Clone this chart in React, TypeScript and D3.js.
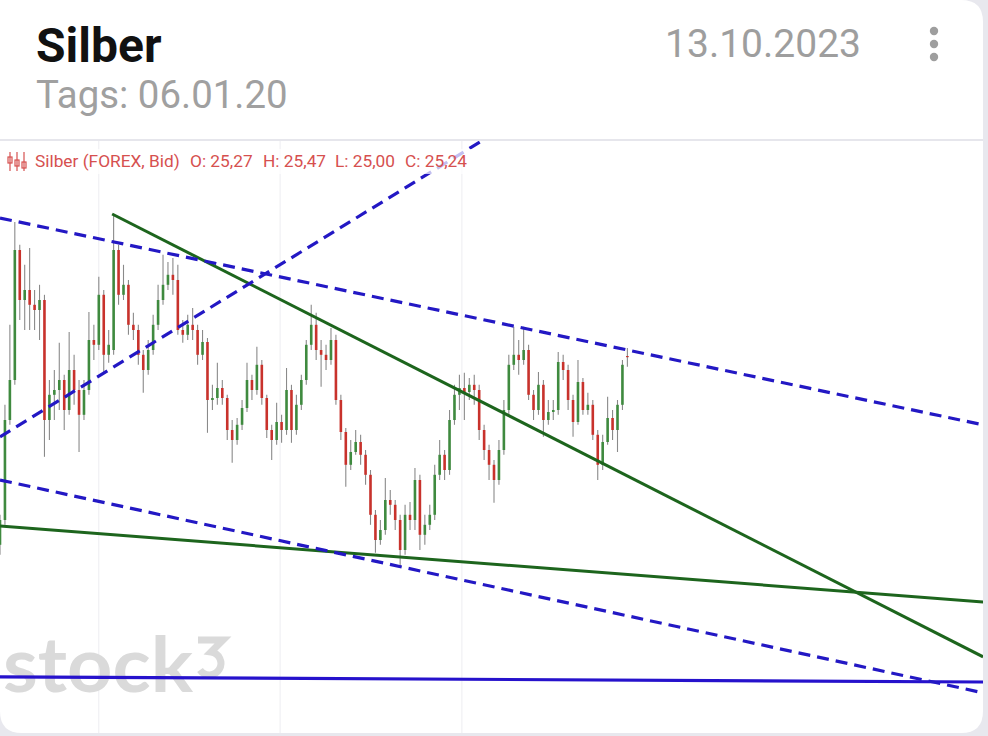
import React from "react";
import * as d3 from "d3";

// ---- data ----
const OPEN = [
  20.55, 21.17, 23.67, 24.67, 27.92, 26.67, 26.92, 26.55, 26.42, 26.67,
  23.67, 24.30, 24.42, 24.67, 23.92, 24.92, 24.42, 23.80, 24.42, 25.67,
  25.55, 26.80, 25.30, 25.42, 27.92, 26.80, 27.05, 26.05, 25.92, 25.30,
  24.92, 25.42, 26.05, 26.67, 27.05, 27.30, 27.17, 25.92, 25.80, 26.05,
  25.92, 25.30, 25.62, 24.17, 24.22, 24.47, 24.22, 23.42, 23.17, 23.55,
  23.97, 24.67, 24.42, 25.05, 24.22, 23.42, 23.17, 23.62, 23.42, 24.42,
  23.42, 24.05, 24.67, 25.55, 26.05, 25.42, 25.30, 25.17, 25.67, 24.17,
  23.37, 22.55, 22.87, 23.12, 22.80, 22.30, 21.30, 20.67, 20.92, 21.67,
  21.55, 21.17, 20.42, 21.30, 21.17, 22.17, 20.80, 21.05, 21.30, 22.30,
  22.80, 22.42, 23.67, 24.30, 24.47, 24.37, 24.55, 24.42, 23.42, 22.92,
  22.55, 22.17, 22.92, 23.92, 25.05, 25.30, 25.17, 25.42, 24.30, 23.92,
  24.55, 23.67, 23.87, 23.92, 25.12, 24.92, 24.17, 23.62, 24.62, 23.92,
  24.05, 23.30, 22.55, 23.12, 23.72, 23.42, 24.05, 25.27,
];
const HIGH = [
  21.30, 24.05, 26.05, 28.62, 28.05, 27.55, 27.97, 26.92, 27.05, 26.80,
  24.67, 24.92, 25.60, 24.80, 25.87, 25.30, 24.67, 24.67, 26.37, 26.05,
  27.25, 26.92, 25.92, 28.82, 28.05, 27.55, 27.17, 26.35, 26.05, 25.42,
  25.67, 26.30, 27.05, 27.80, 27.62, 27.72, 27.55, 26.17, 26.30, 26.47,
  26.05, 25.92, 25.72, 24.55, 25.10, 24.67, 24.30, 23.67, 23.72, 24.17,
  25.10, 24.80, 25.50, 25.17, 24.30, 23.55, 24.10, 23.80, 24.97, 24.55,
  24.30, 24.80, 25.67, 26.55, 26.35, 25.67, 25.55, 25.97, 25.80, 24.30,
  23.47, 23.17, 23.42, 23.30, 22.92, 22.42, 21.42, 21.17, 22.22, 21.92,
  21.67, 21.30, 21.55, 21.62, 22.47, 22.30, 21.30, 21.55, 22.55, 23.17,
  22.92, 23.92, 24.55, 24.80, 24.85, 24.72, 24.80, 24.55, 23.55, 23.05,
  22.67, 23.17, 24.17, 25.30, 26.00, 25.67, 26.00, 25.55, 24.42, 24.87,
  24.67, 24.17, 24.17, 25.37, 25.30, 25.05, 24.30, 25.17, 24.72, 24.35,
  24.17, 23.42, 23.30, 24.25, 23.92, 24.17, 25.17, 25.47,
];
const LOW = [
  20.30, 21.05, 23.55, 24.55, 26.17, 25.92, 25.92, 25.92, 25.67, 22.75,
  23.17, 23.67, 23.92, 23.42, 23.80, 24.05, 22.87, 23.67, 24.30, 25.17,
  25.42, 24.85, 25.10, 25.30, 26.55, 26.67, 25.80, 25.67, 25.05, 24.35,
  24.80, 25.30, 25.92, 26.55, 26.92, 26.80, 25.80, 25.60, 25.67, 25.67,
  25.05, 25.17, 23.35, 23.92, 24.05, 24.05, 23.17, 22.60, 23.05, 23.42,
  23.87, 24.17, 24.30, 24.05, 23.22, 22.67, 23.05, 23.10, 23.30, 23.10,
  23.30, 23.92, 24.55, 25.42, 25.17, 24.50, 24.92, 25.05, 24.05, 23.17,
  22.00, 22.42, 22.80, 22.55, 22.05, 21.05, 20.35, 20.55, 20.80, 21.30,
  20.92, 20.00, 20.30, 20.92, 20.92, 20.42, 20.55, 20.92, 21.17, 22.17,
  22.17, 22.30, 23.55, 23.92, 23.67, 24.17, 24.05, 23.17, 22.67, 22.17,
  21.60, 22.05, 22.80, 23.80, 24.92, 24.80, 25.05, 24.17, 23.67, 23.80,
  23.25, 23.55, 23.67, 23.80, 24.67, 23.92, 23.25, 23.55, 23.80, 23.80,
  23.17, 22.17, 22.42, 23.05, 23.17, 22.87, 23.92, 25.00,
];
const CLOSE = [
  21.17, 23.67, 24.67, 27.92, 26.67, 26.92, 26.55, 26.42, 26.67, 23.67,
  24.30, 24.42, 24.67, 23.92, 24.92, 24.42, 23.80, 24.42, 25.67, 25.55,
  26.80, 25.30, 25.55, 27.92, 26.80, 27.05, 26.05, 25.92, 25.30, 24.92,
  25.42, 26.05, 26.67, 27.05, 27.30, 27.17, 25.92, 25.80, 26.05, 25.92,
  25.30, 25.62, 24.17, 24.22, 24.47, 24.22, 23.42, 23.17, 23.55, 23.97,
  24.67, 24.42, 25.05, 24.22, 23.42, 23.17, 23.62, 23.42, 24.42, 23.42,
  24.05, 24.67, 25.55, 26.05, 25.42, 25.30, 25.17, 25.67, 24.17, 23.37,
  22.55, 22.87, 23.12, 22.80, 22.30, 21.30, 20.67, 20.92, 21.67, 21.55,
  21.17, 20.42, 21.30, 21.17, 22.17, 20.80, 21.05, 21.30, 22.30, 22.80,
  22.42, 23.67, 24.30, 24.47, 24.37, 24.55, 24.42, 23.42, 22.92, 22.55,
  22.17, 22.92, 23.92, 25.05, 25.30, 25.17, 25.42, 24.30, 23.92, 24.55,
  23.67, 23.87, 23.92, 25.12, 24.92, 24.17, 23.62, 24.62, 23.92, 24.05,
  23.30, 22.55, 23.12, 23.72, 23.42, 24.05, 25.05, 25.24,
];

// trend lines: [startIndex, startPrice, endIndex, endPrice]
const DASHED_LINES = [
  [0, 28.72, 199, 23.55],
  [0, 23.25, 97.8, 30.67],
  [0, 22.17, 199, 16.85],
];
const GREEN_LINES = [
  [22.7, 28.82, 199, 17.75],
  [0, 21.02, 199, 19.12],
];
const BLUE_SOLID_LINES = [[0, 17.25, 199, 17.12]];

const TITLE = "Silber";
const DATE_LABEL = "13.10.2023";
const SUBTITLE = "Tags: 06.01.20";
const LEGEND_ITEMS = [
  "Silber (FOREX, Bid)",
  "O: 25,27",
  "H: 25,47",
  "L: 25,00",
  "C: 25,24",
];
const LEGEND_X = [35, 190, 263, 335, 405];
const GRID_INDEX = [20, 56.7, 93.5];
const WATERMARK = "stock";

const W = 988;
const H = 736;
const CARD_R = 22;
const CARD_W = 983;
const CARD_H = 733;
const PLOT_TOP = 141;

export default function App() {
  const x = d3.scaleLinear().domain([0, 200]).range([0, 988]);
  const y = d3.scaleLinear().domain([15, 30]).range([766.8, 166.8]);

  const lineGen = d3
    .line<[number, number]>()
    .x((d) => x(d[0]))
    .y((d) => y(d[1]));

  const cardPath = `M0,0 L${CARD_W - CARD_R},0 Q${CARD_W},0 ${CARD_W},${CARD_R} L${CARD_W},${CARD_H - CARD_R} Q${CARD_W},${CARD_H} ${CARD_W - CARD_R},${CARD_H} L${CARD_R},${CARD_H} Q0,${CARD_H} 0,${CARD_H - CARD_R} Z`;

  const font = "Roboto, 'Noto Sans', sans-serif";
  const bodyW = 2.6;

  return (
    <svg
      width={W}
      height={H}
      style={{ position: "absolute", left: 0, top: 0, display: "block" }}
    >
      <defs>
        <clipPath id="plotClip">
          <rect x={0} y={PLOT_TOP} width={CARD_W} height={CARD_H - PLOT_TOP} />
        </clipPath>
      </defs>
      <rect x={0} y={0} width={W} height={H} fill="#e8e8ee" />
      <path d={cardPath} fill="#ffffff" />

      {/* header */}
      <text x={36} y={62} fontFamily={font} fontWeight={700} fontSize={48} fill="#111">
        {TITLE}
      </text>
      <text x={861} y={57} textAnchor="end" fontFamily={font} fontSize={39} fill="#9e9e9e">
        {DATE_LABEL}
      </text>
      {[31, 44, 57].map((cy) => (
        <circle key={cy} cx={934} cy={cy} r={4.2} fill="#9e9e9e" />
      ))}
      <text x={36} y={108} fontFamily={font} fontSize={38.4} fill="#a0a0a0">
        {SUBTITLE}
      </text>

      {/* plot separator */}
      <line x1={0} x2={CARD_W} y1={140} y2={140} stroke="#e6e6ec" strokeWidth={2} />

      <g clipPath="url(#plotClip)">
        {GRID_INDEX.map((gi) => (
          <line key={gi} x1={x(gi)} x2={x(gi)} y1={PLOT_TOP} y2={CARD_H} stroke="#ededf1" strokeWidth={1} />
        ))}

        {/* watermark */}
        <text x={3} y={692} fontFamily="Lato, 'Open Sans', sans-serif" fontWeight={700} fontSize={76} fill="#dadada" textLength={190} lengthAdjust="spacingAndGlyphs">
          {WATERMARK}
        </text>
        <path d="M198,640 H223 L211,652 A11.5 11.5 0 1 1 200,670" fill="none" stroke="#dadada" strokeWidth={7} />

        {/* candles */}
        {CLOSE.map((c, i) => {
          const o = OPEN[i];
          const up = c >= o;
          const cx = x(i);
          const top = y(Math.max(o, c));
          const bot = y(Math.min(o, c));
          return (
            <g key={i}>
              <line x1={cx} x2={cx} y1={y(HIGH[i])} y2={y(LOW[i])} stroke="#8a8a8a" strokeWidth={1.1} />
              <rect
                x={cx - bodyW / 2}
                y={top}
                width={bodyW}
                height={Math.max(1, bot - top)}
                fill={up ? "#3f8a3f" : "#c8322c"}
              />
            </g>
          );
        })}

        {/* trend lines */}
        {GREEN_LINES.map((l, k) => (
          <path key={"g" + k} d={lineGen([[l[0], l[1]], [l[2], l[3]]])!} stroke="#1d651d" strokeWidth={3} fill="none" />
        ))}
        {BLUE_SOLID_LINES.map((l, k) => (
          <path key={"b" + k} d={lineGen([[l[0], l[1]], [l[2], l[3]]])!} stroke="#2612cc" strokeWidth={3.2} fill="none" />
        ))}
        {DASHED_LINES.map((l, k) => (
          <path key={"d" + k} d={lineGen([[l[0], l[1]], [l[2], l[3]]])!} stroke="#2318c4" strokeWidth={3.2} strokeDasharray="12 7" fill="none" />
        ))}

        {/* legend */}
        <rect x={4} y={149} width={468} height={25} fill="#ffffff" opacity={0.72} />
        <g fill="#d6504f" stroke="#d6504f">
          <line x1={10} x2={10} y1={152} y2={171} strokeWidth={1.2} />
          <rect x={8} y={157} width={4} height={6} fill="none" strokeWidth={1.2} />
          <line x1={17} x2={17} y1={152} y2={171} strokeWidth={1.2} />
          <rect x={15} y={160} width={4} height={6} fill="none" strokeWidth={1.2} />
          <line x1={24} x2={24} y1={152} y2={171} strokeWidth={1.2} />
          <rect x={22} y={162} width={4} height={6} fill="none" strokeWidth={1.2} />
        </g>
        {LEGEND_ITEMS.map((t, k) => (
          <text key={t} x={LEGEND_X[k]} y={167} fontFamily={font} fontSize={17.3} fill="#d6504f">
            {t}
          </text>
        ))}
      </g>
    </svg>
  );
}
